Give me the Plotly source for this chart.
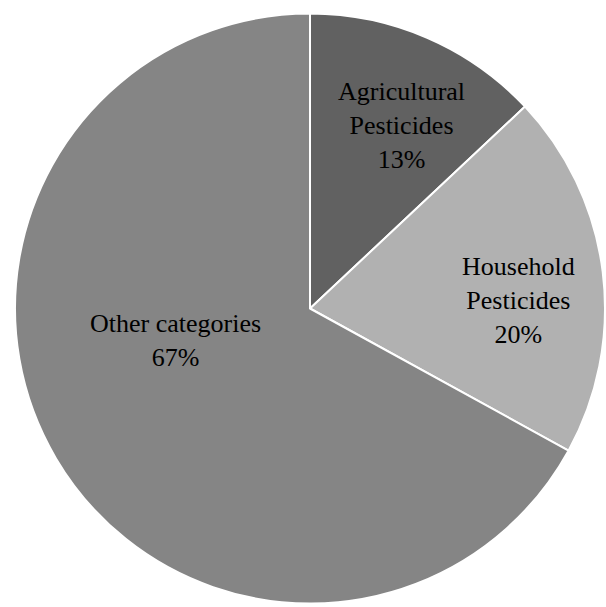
import plotly.graph_objects as go

labels = ["Agricultural<br>Pesticides", "Household<br>Pesticides", "Other categories"]
values = [13, 20, 67]
colors = ["#616161", "#b1b1b1", "#858585"]

# label block centres in pixels (style/layout, not data)
label_px = [(401, 125), (518, 300), (175, 340)]

W, H = 606, 607

fig = go.Figure(go.Pie(
    labels=labels,
    values=values,
    sort=False,
    direction="clockwise",
    rotation=0,
    marker=dict(colors=colors, line=dict(color="white", width=2)),
    textinfo="none",
    showlegend=False,
    hoverinfo="label+percent",
    domain=dict(x=[15 / W, 605 / W], y=[(H - 605) / H, (H - 12) / H]),
))

total = sum(values)
for lab, val, (px, py) in zip(labels, values, label_px):
    fig.add_annotation(
        x=px / W, y=1 - py / H, xref="paper", yref="paper",
        xanchor="center", yanchor="middle",
        text=f"{lab}<br>{round(100 * val / total)}%",
        showarrow=False,
        font=dict(family="Liberation Serif", size=26, color="black"),
    )

fig.update_layout(
    width=W, height=H,
    margin=dict(l=0, r=0, t=0, b=0),
    paper_bgcolor="white",
)
fig.write_html("out.html")
